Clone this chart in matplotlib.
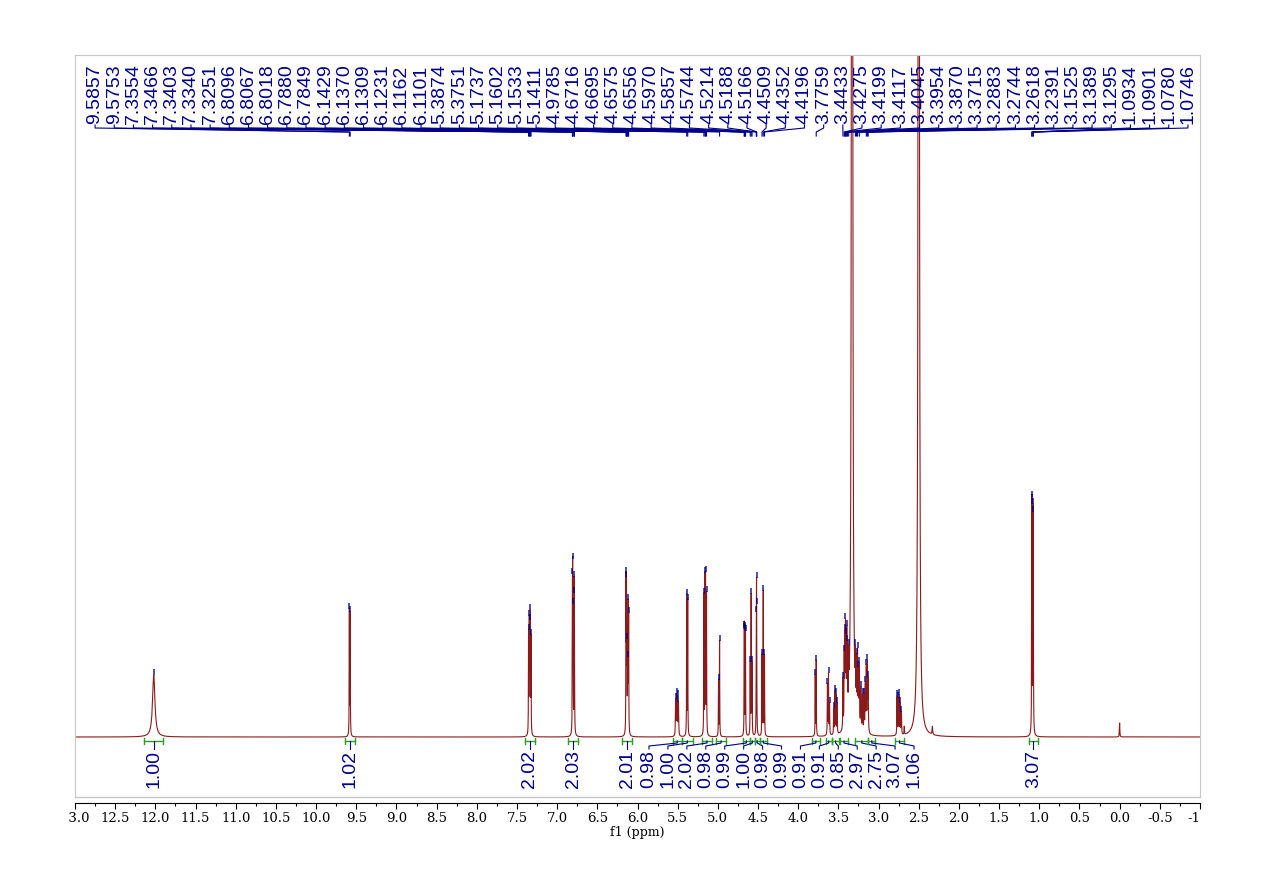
import numpy as np
import matplotlib.pyplot as plt
from matplotlib.transforms import blended_transform_factory, Bbox, TransformedBbox

# ---- peak list (ppm, height above baseline, line width in ppm)
peak_ppm = [12.02,
            9.5857, 9.5753,
            7.3554, 7.3466, 7.3403, 7.3340, 7.3251,
            6.8096, 6.8067, 6.8018, 6.7880, 6.7849,
            6.1429, 6.1370, 6.1309, 6.1231, 6.1162, 6.1101,
            5.525, 5.513, 5.502, 5.490,
            5.3874, 5.3751,
            5.1737, 5.1602, 5.1533, 5.1411,
            4.9915, 4.9785,
            4.6716, 4.6695, 4.6575, 4.6556,
            4.5970, 4.5857, 4.5744,
            4.5214, 4.5188, 4.5166,
            4.4509, 4.4352, 4.4196,
            3.7880, 3.7759,
            3.6360, 3.6230, 3.6100,
            3.5580, 3.5440, 3.5300, 3.5160,
            3.4433, 3.4275, 3.4199, 3.4117, 3.4045, 3.3954, 3.3870, 3.3715,
            3.3300,
            3.2883, 3.2744, 3.2618, 3.2500, 3.2391, 3.2200, 3.2000, 3.1800, 3.1650, 3.1525, 3.1389, 3.1295,
            2.7700, 2.7560, 2.7420, 2.7280, 2.7150, 2.6800,
            2.5000, 2.3300,
            1.0934, 1.0901, 1.0780, 1.0746,
            0.0000]
peak_height = [62,
               125, 122,
               100, 105, 95, 110, 95,
               115, 125, 105, 125, 105,
               148, 135, 75, 60, 120, 110,
               35, 38, 36, 32,
               140, 135,
               140, 150, 150, 140,
               55, 95,
               72, 72, 68, 68,
               70, 140, 70,
               78, 95, 78,
               80, 145, 80,
               60, 75,
               50, 60, 30,
               25, 42, 38, 30,
               50, 65, 80, 88, 70, 80, 62, 45,
               3000,
               45, 52, 65, 48, 58, 40, 35, 35, 45, 62, 66, 50,
               38, 35, 38, 30, 22, 8,
               3000, 8,
               180, 185, 180, 175,
               14]
peak_width = [0.035,
              0.004, 0.004,
              0.004, 0.004, 0.004, 0.004, 0.004,
              0.004, 0.004, 0.004, 0.004, 0.004,
              0.004, 0.004, 0.004, 0.004, 0.004, 0.004,
              0.006, 0.006, 0.006, 0.006,
              0.004, 0.004,
              0.004, 0.004, 0.004, 0.004,
              0.004, 0.004,
              0.004, 0.004, 0.004, 0.004,
              0.004, 0.004, 0.004,
              0.004, 0.004, 0.004,
              0.004, 0.004, 0.004,
              0.004, 0.004,
              0.005, 0.005, 0.005,
              0.005, 0.005, 0.005, 0.005,
              0.005, 0.005, 0.005, 0.005, 0.005, 0.005, 0.005, 0.005,
              0.01,
              0.006, 0.006, 0.006, 0.006, 0.006, 0.006, 0.006, 0.006, 0.006, 0.006, 0.006, 0.006,
              0.005, 0.005, 0.005, 0.005, 0.005, 0.005,
              0.01, 0.008,
              0.004, 0.004, 0.004, 0.004,
              0.006]
unmarked_ppm = [3.3300, 2.5000, 2.3300, 2.6800, 0.0000]

# ---- peak-picking labels (top)
label_ppm = [9.5857, 9.5753, 7.3554, 7.3466, 7.3403, 7.3340, 7.3251,
             6.8096, 6.8067, 6.8018, 6.7880, 6.7849,
             6.1429, 6.1370, 6.1309, 6.1231, 6.1162, 6.1101,
             5.3874, 5.3751, 5.1737, 5.1602, 5.1533, 5.1411, 4.9785,
             4.6716, 4.6695, 4.6575, 4.6556, 4.5970, 4.5857, 4.5744,
             4.5214, 4.5188, 4.5166, 4.4509, 4.4352, 4.4196, 3.7759,
             3.4433, 3.4275, 3.4199, 3.4117, 3.4045, 3.3954, 3.3870, 3.3715,
             3.2883, 3.2744, 3.2618, 3.2391, 3.1525, 3.1389, 3.1295,
             1.0934, 1.0901, 1.0780, 1.0746]

# ---- integrals (bottom)
int_from = [12.14, 9.64, 7.40, 6.86, 6.19, 5.56, 5.45, 5.20, 5.02, 4.69, 4.60, 4.54, 4.48,
            3.83, 3.66, 3.58, 3.48, 3.29, 3.13, 2.80, 1.13]
int_to = [11.90, 9.52, 7.28, 6.74, 6.07, 5.45, 5.31, 5.07, 4.90, 4.60, 4.54, 4.48, 4.39,
          3.73, 3.58, 3.49, 3.38, 3.13, 3.04, 2.68, 1.02]
int_value = ['1.00', '1.02', '2.02', '2.03', '2.01', '0.98', '1.00', '2.02', '0.98', '0.99',
             '1.00', '0.98', '0.99', '0.91', '0.91', '0.85', '2.97', '2.75', '3.07', '1.06', '3.07']

red = '#8b1a1a'
navy = '#00008b'
green = '#2aa02a'

fig = plt.figure(figsize=(12.75, 8.92), dpi=100)
ax = fig.add_axes([75 / 1275, 95 / 892, 1125 / 1275, 742 / 892])

ppm = np.arange(-1.0, 13.0, 0.0005)
spec = np.zeros_like(ppm)
for p, h, w in zip(peak_ppm, peak_height, peak_width):
    spec += h / (1 + ((ppm - p) / (w / 2)) ** 2)
ax.plot(ppm, spec, color=red, lw=0.8)

ax.set_xlim(13, -1)
ax.set_ylim(-60, 682)

# blue peak-pick marks on top of the peaks
mark = [p for p in peak_ppm if p not in unmarked_ppm]
ax.plot(mark, np.interp(mark, ppm, spec) + 3, ls='none', marker='|', ms=5, mew=1.3,
        color=navy, alpha=0.75)

# frame
for s in ['top', 'left', 'right']:
    ax.spines[s].set_color('#c8c8c8')
ax.spines['bottom'].set_position(('outward', 4.3))
ax.plot([0, 1], [0, 0], transform=ax.transAxes, color='#c8c8c8', lw=1, clip_on=False)
ax.set_yticks([])

major = np.arange(-1.0, 13.01, 0.5)
ax.set_xticks(major)
ax.set_xticklabels([f'{v:.1f}' for v in major], fontfamily='DejaVu Serif', fontsize=9.5)
ax.set_xticks(np.arange(-1.0, 13.01, 0.25), minor=True)
ax.tick_params(axis='x', which='major', length=4.5, width=0.8, pad=2)
ax.tick_params(axis='x', which='minor', length=2.2, width=0.8)
ax.set_xlabel('f1 (ppm)', fontfamily='DejaVu Serif', fontsize=9, labelpad=1)

# edge tick labels are cut off like in the original export
clip = TransformedBbox(Bbox([[-0.0055, -1], [1.0, 1]]), ax.transAxes)
for t in ax.xaxis.get_major_ticks():
    t.label1.set_clip_box(clip)
    t.label1.set_clip_on(True)

trans = blended_transform_factory(ax.transData, ax.transAxes)


def fy(px):
    return (797 - px) / 742


# top peak labels with connector lines
label_x = np.linspace(12.75, -0.85, len(label_ppm))
for lx, p in zip(label_x, label_ppm):
    ax.text(lx, fy(124), f'{p:.4f}', rotation=90, ha='center', va='bottom', transform=trans,
            color=navy, fontsize=14, family='Liberation Sans')
    ax.plot([lx, lx, p, p], [fy(125), fy(128), fy(132), fy(136)], transform=trans,
            color=navy, lw=0.8, clip_on=False)

# integral brackets and values
centers = [(a + b) / 2 for a, b in zip(int_from, int_to)]
int_x = centers[:5] + list(np.linspace(5.857, 5.857 - 0.2356 * 14, 15)) + centers[-1:]
for a, b, v, lx in zip(int_from, int_to, int_value, int_x):
    c = (a + b) / 2
    ax.plot([a, b], [fy(741), fy(741)], transform=trans, color=green, lw=1, clip_on=False)
    ax.plot([a, a], [fy(738), fy(744)], transform=trans, color=green, lw=1, clip_on=False)
    ax.plot([b, b], [fy(738), fy(744)], transform=trans, color=green, lw=1, clip_on=False)
    ax.plot([c, c, lx, lx], [fy(741), fy(743), fy(746), fy(749)], transform=trans,
            color=navy, lw=0.8, clip_on=False)
    ax.text(lx, fy(750), v, rotation=90, ha='center', va='top', transform=trans,
            color=navy, fontsize=14, family='Liberation Sans')

fig.savefig('out.png', dpi=100)
